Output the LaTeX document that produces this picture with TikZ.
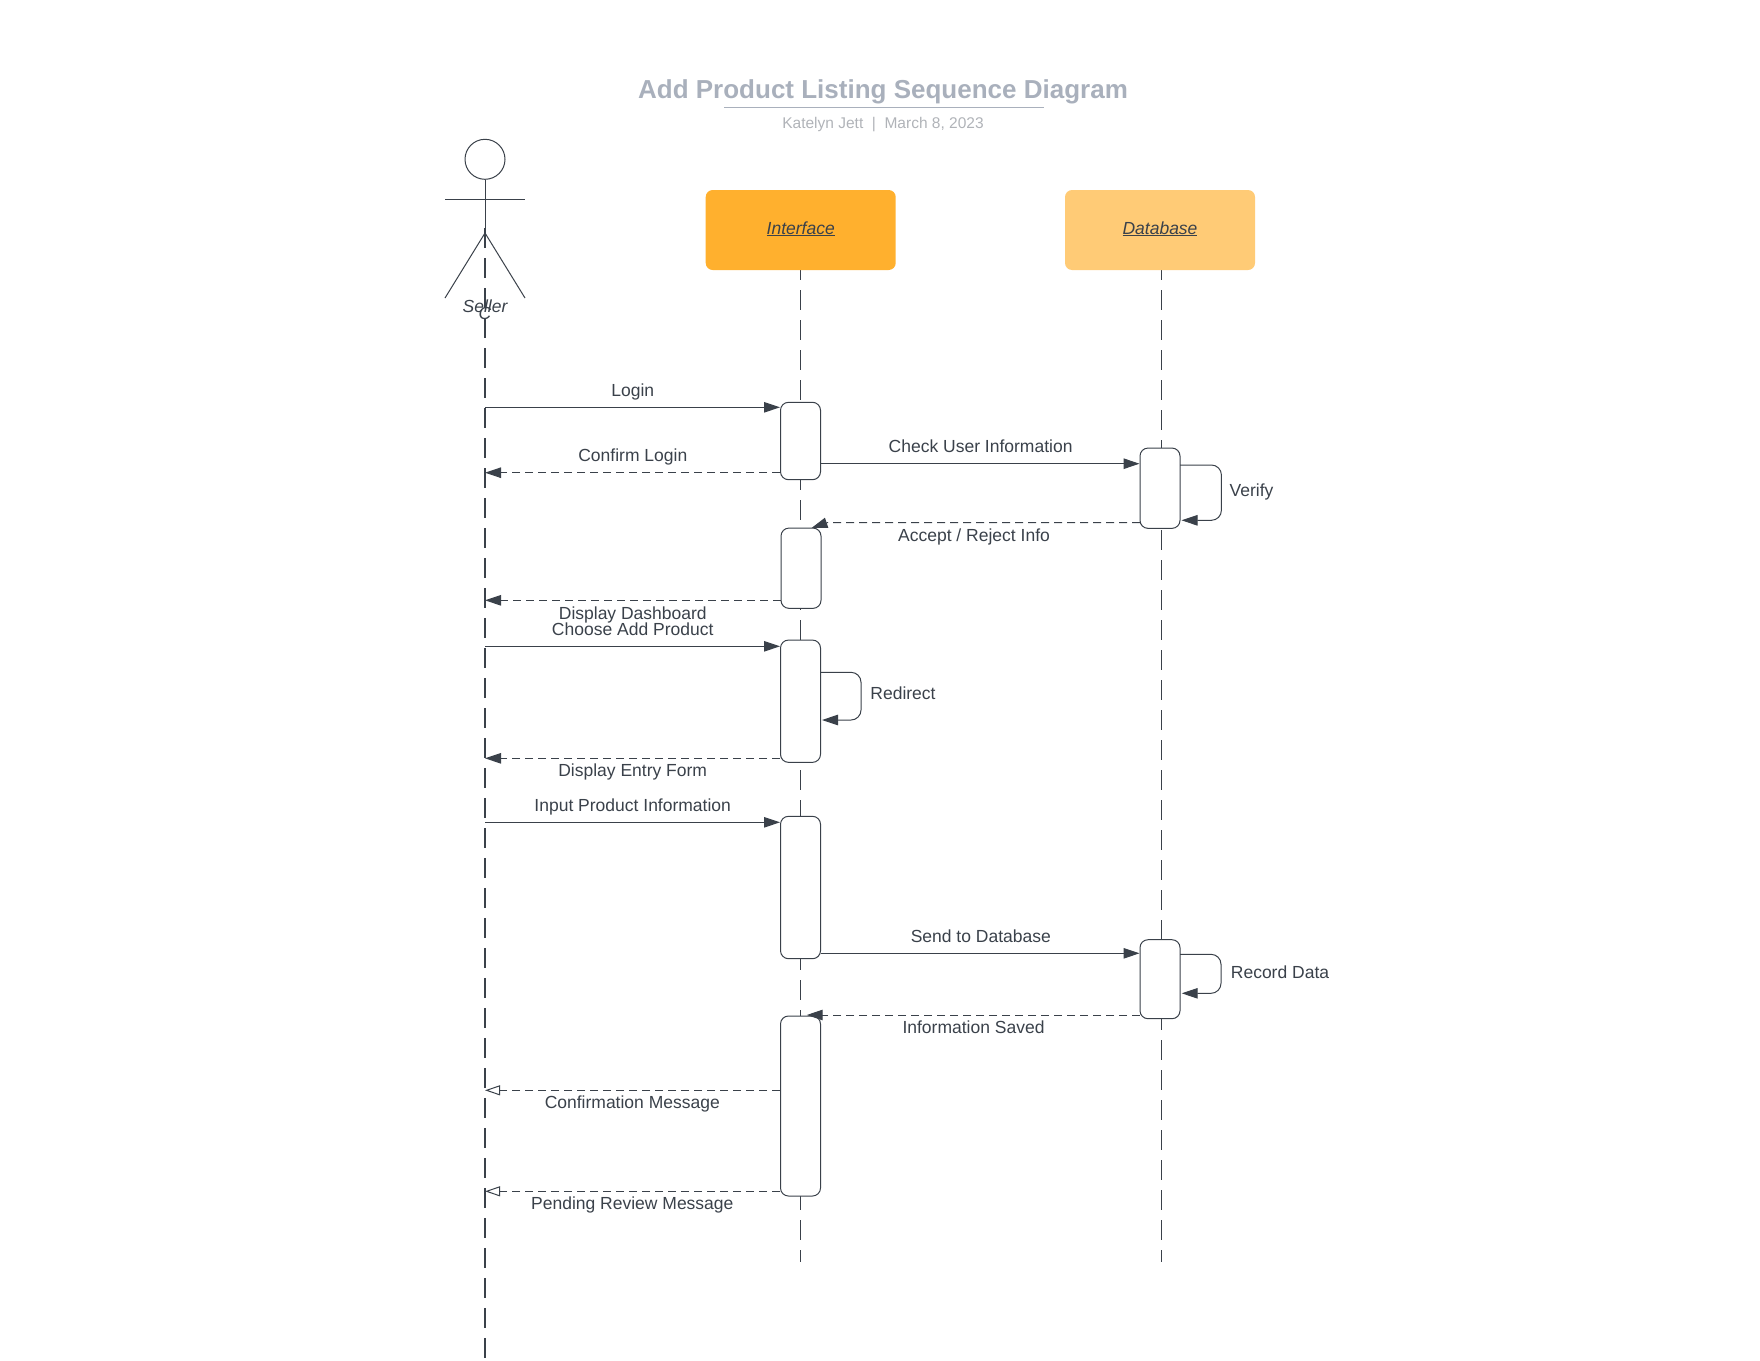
\documentclass[tikz,border=0pt]{standalone}
\usepackage{fontspec}
\setmainfont{Liberation Sans}
\usetikzlibrary{arrows.meta}
\definecolor{ink}{HTML}{3A414A}
\definecolor{titlegrey}{HTML}{A9B0BC}
\definecolor{subgrey}{HTML}{B0B3B8}
\definecolor{orangeA}{HTML}{FFB02E}
\definecolor{orangeB}{HTML}{FFCB76}
\begin{document}
\begin{tikzpicture}[x=1pt, y=-1pt, line width=1pt,
    head/.style={rectangle, rounded corners=7pt, minimum width=190pt, minimum height=80pt, inner sep=0pt, font=\fontsize{17.5}{20}\selectfont\itshape, text=ink},
    act/.style={draw=ink, fill=white, rectangle, rounded corners=8pt, minimum width=40pt, inner sep=0pt},
    life/.style={draw=ink, dash pattern=on 20pt off 10pt},
    call/.style={draw=ink, -{Triangle[length=16pt,width=10.5pt]}, fill=none},
    back/.style={call, dash pattern=on 8pt off 5pt},
    open/.style={draw=ink, dash pattern=on 8pt off 5pt, -{Triangle[open,fill=white,length=15pt,width=10pt]}},
    lab/.style={anchor=base, inner sep=0pt, text=ink, font=\fontsize{17.5}{20}\selectfont}]
    \useasboundingbox (0,0) rectangle (1760,1360);

    % title
    \node (title) [anchor=base, inner sep=0pt, text=titlegrey, font=\fontsize{26}{30}\selectfont\bfseries] at (883,98) {Add Product Listing Sequence Diagram};
    \node (sub) [anchor=base, inner sep=0pt, text=subgrey, font=\fontsize{15.5}{18}\selectfont] at (883,128) {Katelyn Jett \ |\ \ March 8, 2023};
    \coordinate (u1) at (724,107.7);
    \coordinate (u2) at (1044,107.7);
    \draw[titlegrey, line width=1.5pt] (u1) -- (u2);

    % lifelines
    \coordinate (s0) at (485,228);
    \coordinate (s9) at (485,1358);
    \coordinate (i0) at (800,260);
    \coordinate (i9) at (800,1262);
    \coordinate (d0) at (1161,260);
    \coordinate (d9) at (1161,1262);
    \draw[life, line width=2.2pt] (s0) -- (s9);
    \draw[life] (i0) -- (i9);
    \draw[life] (d0) -- (d9);

    % actor
    \node (head) [draw=ink, circle, minimum size=40pt, inner sep=0pt] at (485,159.3) {};
    \coordinate (arml) at (445,199.3);
    \coordinate (armr) at (525,199.3);
    \coordinate (hip) at (485,233);
    \coordinate (legl) at (445,298);
    \coordinate (legr) at (525,298);
    \draw[ink] (head) -- (hip);
    \draw[ink] (arml) -- (armr);
    \draw[ink] (legl) -- (hip) -- (legr);
    \node (seller) [lab, font=\fontsize{17.5}{20}\selectfont\itshape] at (485,312.5) {Seller};
    \node (stray) [lab, font=\fontsize{17.5}{20}\selectfont\itshape] at (485,319) {C};

    % heads
    \node[head, fill=orangeA] (iface) at (800.7,230) {};
    \node[head, fill=orangeB] (dbase) at (1160,230) {};
    \node (ifacet) [lab, font=\fontsize{17.5}{20}\selectfont\itshape] at (800.7,234) {\underline{Interface}};
    \node (dbaset) [lab, font=\fontsize{17.5}{20}\selectfont\itshape] at (1160,234) {\underline{Database}};

    % activations
    \node[act, minimum height=77.4pt] (a1) at (800.5,441) {};
    \node[act, minimum height=80.3pt] (a2) at (801,568.2) {};
    \node[act, minimum height=122.3pt] (a3) at (800.5,701.2) {};
    \node[act, minimum height=142.4pt] (a4) at (800.5,887.5) {};
    \node[act, minimum height=180pt] (a5) at (800.5,1106) {};
    \node[act, minimum height=80.3pt] (d1) at (1160,488.2) {};
    \node[act, minimum height=79pt] (d2) at (1160,979.2) {};

    % messages
    \coordinate (m1) at (485,407.3);
    \coordinate (m2) at (485,472.7);
    \coordinate (m3) at (820.4,463.7);
    \coordinate (m5) at (485,600.3);
    \coordinate (m6) at (485,646.3);
    \coordinate (m7) at (485,758.3);
    \coordinate (m8) at (485,822.3);
    \coordinate (m9) at (820.5,953.3);
    \coordinate (m12) at (485,1090.3);
    \coordinate (m13) at (485,1191.3);
    \draw[call] (m1) -- (m1 -| a1.west);
    \draw[back] (m2 -| a1.west) -- (m2);
    \draw[call] (m3) -- (m3 -| d1.west);
    \draw[back] (m5 -| a2.west) -- (m5);
    \draw[call] (m6) -- (m6 -| a3.west);
    \draw[back] (m7 -| a3.west) -- (m7);
    \draw[call] (m8) -- (m8 -| a4.west);
    \draw[call] (m9) -- (m9 -| d2.west);
    \draw[open] (m12 -| a5.west) -- (m12);
    \draw[open] (m13 -| a5.west) -- (m13);

    % accept / saved
    \coordinate (r1) at (1140,522.7);
    \coordinate (r2) at (827,522.7);
    \coordinate (r3) at (811.5,528);
    \draw[back] (r1) -- (r2) -- (r3);
    \coordinate (q1) at (1140,1015);
    \coordinate (q2) at (806.7,1015);
    \draw[back] (q1) -- (q2);

    % self calls
    \coordinate (v1) at (1180,465);
    \coordinate (v2) at (1221.4,465);
    \coordinate (v3) at (1221.4,520.3);
    \coordinate (v4) at (1181.5,520.3);
    \draw[call, rounded corners=10pt] (v1) -- (v2) -- (v3) -- (v4);
    \coordinate (w1) at (820.7,672.3);
    \coordinate (w2) at (861,672.3);
    \coordinate (w3) at (861,720);
    \coordinate (w4) at (822,720);
    \draw[call, rounded corners=10pt] (w1) -- (w2) -- (w3) -- (w4);
    \coordinate (x1) at (1180,954.3);
    \coordinate (x2) at (1221,954.3);
    \coordinate (x3) at (1221,993.3);
    \coordinate (x4) at (1181.7,993.3);
    \draw[call, rounded corners=10pt] (x1) -- (x2) -- (x3) -- (x4);

    % labels
    \node[lab] (l1) at (632.8,396.7) {Login};
    \node[lab] (l2) at (632.8,461.7) {Confirm Login};
    \node[lab] (l3) at (980.6,452.7) {Check User Information};
    \node[lab] (l4) at (1251.5,496.7) {Verify};
    \node[lab] (l5) at (974,541) {Accept / Reject Info};
    \node[lab] (l6) at (632.8,619.3) {Display Dashboard};
    \node[lab] (l7) at (632.7,635.3) {Choose Add Product};
    \node[lab] (l8) at (903,699.7) {Redirect};
    \node[lab] (l9) at (632.7,776.7) {Display Entry Form};
    \node[lab] (l10) at (632.7,811.3) {Input Product Information};
    \node[lab] (l11) at (980.8,942) {Send to Database};
    \node[lab] (l12) at (1280,978) {Record Data};
    \node[lab] (l13) at (973.5,1033.3) {Information Saved};
    \node[lab] (l14) at (632.3,1108.7) {Confirmation Message};
    \node[lab] (l15) at (632.3,1209.3) {Pending Review Message};
\end{tikzpicture}
\end{document}
